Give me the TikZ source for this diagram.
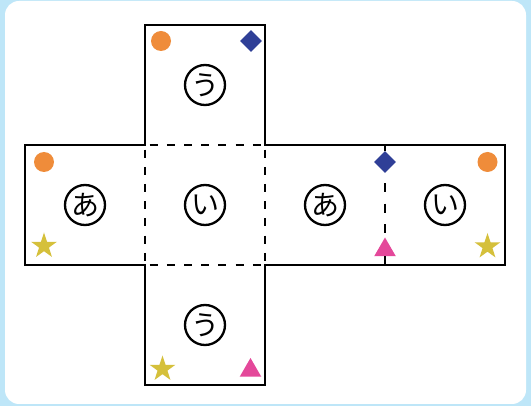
\documentclass[tikz,border=0pt]{standalone}
\usepackage{fontspec}
\newfontfamily\kana{Noto Sans CJK JP}
\usetikzlibrary{shapes.geometric}
\definecolor{bgblue}{HTML}{BEE6F8}
\definecolor{dotorange}{HTML}{EF8C3A}
\definecolor{gemblue}{HTML}{2F3F97}
\definecolor{staryellow}{HTML}{D5C03B}
\definecolor{tripink}{HTML}{E4489A}
\tikzset{
  net/.style={line width=2.9pt},
  fold/.style={line width=2.9pt,dash pattern=on 8pt off 9.2pt,dash phase=12.6pt},
  face/.style={circle,draw,line width=2.3pt,minimum size=40pt,inner sep=0pt,
    font=\kana\fontsize{28}{28}\selectfont},
  dotmark/.style={circle,fill=dotorange,minimum size=20pt,inner sep=0pt},
  gemmark/.style={diamond,fill=gemblue,minimum size=22pt,inner sep=0pt},
  starmark/.style={star,star points=5,star point ratio=2.6,fill=staryellow,
    minimum size=27pt,inner sep=0pt},
  trimark/.style={regular polygon,regular polygon sides=3,fill=tripink,
    minimum size=25pt,inner sep=0pt}
}
\begin{document}
\begin{tikzpicture}[x=1pt,y=-1pt]
  \useasboundingbox (0,0) rectangle (531,406);
  \fill[bgblue] (0,0) rectangle (531,406);
  \fill[white,rounded corners=14pt] (5,1) rectangle (526,404);
  % net outline
  \draw[net] (25,145) -- (145,145) -- (145,25) -- (265,25) -- (265,145)
    -- (505,145) -- (505,265) -- (265,265) -- (265,385) -- (145,385)
    -- (145,265) -- (25,265) -- cycle;
  % corners of the middle face
  \coordinate (mNW) at (145,145);
  \coordinate (mNE) at (265,145);
  \coordinate (mSW) at (145,265);
  \coordinate (mSE) at (265,265);
  \coordinate (rTop) at (385,145);
  \coordinate (rBot) at (385,265);
  % folds
  \draw[fold] (mNW) -- (mNE);
  \draw[fold] (mSW) -- (mSE);
  \draw[fold] (mNW) -- (mSW);
  \draw[fold] (mNE) -- (mSE);
  % faces
  \node[face] (uTop) at (205,85) {う};
  \node[face] (aLeft) at (85,205) {あ};
  \node[face] (iMid) at (205,205) {い};
  \node[face] (aRight) at (325,205) {あ};
  \node[face] (iRight) at (445,205) {い};
  \node[face] (uBot) at (205,325) {う};
  % marks
  \node[dotmark] (dotTop) at (161,41) {};
  \node[gemmark] (gemTop) at (251,41) {};
  \node[dotmark] (dotLeft) at (44,162) {};
  \node[starmark] (starLeft) at (44,246) {};
  \node[gemmark] (gemRight) at (385,162) {};
  \node[trimark] (triRight) at (385,250) {};
  \node[dotmark] (dotRight) at (487.5,162) {};
  \node[starmark] (starRight) at (487.5,246.5) {};
  \node[starmark] (starBot) at (162.5,369) {};
  \node[trimark] (triBot) at (250.5,370.5) {};
  % fold through the marks
  \draw[net] (rTop) -- (gemRight.north);
  \draw[fold,dash pattern=on 9pt off 11.5pt,dash phase=10.5pt] (gemRight.south) -- (triRight.north);
  \draw[net] (triRight.south) -- (rBot);
\end{tikzpicture}
\end{document}
